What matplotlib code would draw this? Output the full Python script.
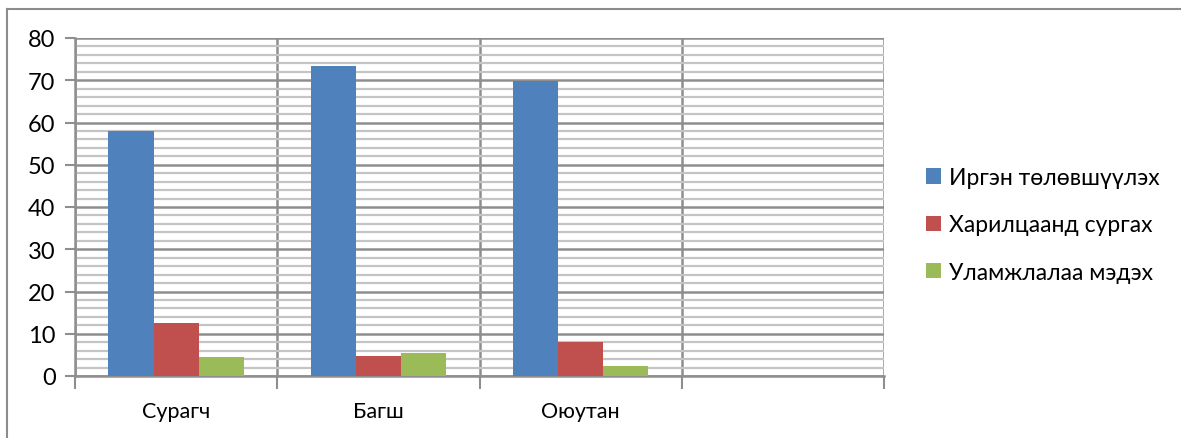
import numpy as np
import matplotlib.pyplot as plt
from matplotlib.lines import Line2D

plt.rcParams['font.family'] = ['Lato', 'DejaVu Sans']

# Data
categories = ["Сурагч", "Багш", "Оюутан", ""]
series_names = ["Иргэн төлөвшүүлэх", "Харилцаанд сургах", "Уламжлалаа мэдэх"]
irgen = [58.0, 73.4, 69.8, 0]
haril = [12.6, 4.8, 8.0, 0]
ulamj = [4.6, 5.5, 2.4, 0]
colors = ["#4F81BD", "#C0504D", "#9BBB59"]

fig = plt.figure(figsize=(11.81, 4.39), dpi=100)
ax = fig.add_axes([75 / 1181, 62 / 439, 809 / 1181, 338 / 439])

# outer chart frame (top and left visible)
fig.add_artist(Line2D([7 / 1181, 1], [1 - 10 / 439] * 2, color="#8c8c8c", lw=1.5))
fig.add_artist(Line2D([7 / 1181] * 2, [0, 1 - 10 / 439], color="#8c8c8c", lw=1.5))

x = np.arange(len(categories))
w = 0.223
for i, (vals, name) in enumerate(zip([irgen, haril, ulamj], series_names)):
    ax.bar(x + (i - 1) * w, vals, w, color=colors[i], label=name, zorder=3)

ax.set_xlim(-0.5, len(categories) - 0.5)
ax.set_ylim(0, 80)

# grid lines
ax.set_yticks(np.arange(0, 81, 10))
ax.set_yticks(np.arange(0, 81, 2), minor=True)
ax.yaxis.grid(True, which="minor", color="#c4c4c4", lw=1.6, zorder=0)
ax.yaxis.grid(True, which="major", color="#8e8e8e", lw=1.8, zorder=1)
ax.set_xticks(np.arange(len(categories) + 1) - 0.5)
ax.set_xticks(x, minor=True)
ax.set_xticklabels([""] * (len(categories) + 1))
ax.set_xticklabels(categories, minor=True)
ax.xaxis.grid(True, which="major", color="#8e8e8e", lw=1.8, zorder=1)

ax.tick_params(axis="y", which="major", length=7, width=1.5, color="#8e8e8e",
               labelsize=17, pad=7)
ax.tick_params(axis="y", which="minor", length=0)
ax.tick_params(axis="x", which="major", length=9, width=1.5, color="#8e8e8e")
ax.tick_params(axis="x", which="minor", length=0, labelsize=15.5, pad=18)

for s in ["top", "right"]:
    ax.spines[s].set_visible(False)
for s in ["left", "bottom"]:
    ax.spines[s].set_color("#8e8e8e")
    ax.spines[s].set_linewidth(1.8)

fig.legend(loc="center left", bbox_to_anchor=(917 / 1181, 1 - 226 / 439),
           frameon=False, fontsize=16.5, handlelength=0.65, handleheight=0.65,
           handletextpad=0.35, labelspacing=1.15, borderaxespad=0)

fig.savefig("out.png", dpi=100)
